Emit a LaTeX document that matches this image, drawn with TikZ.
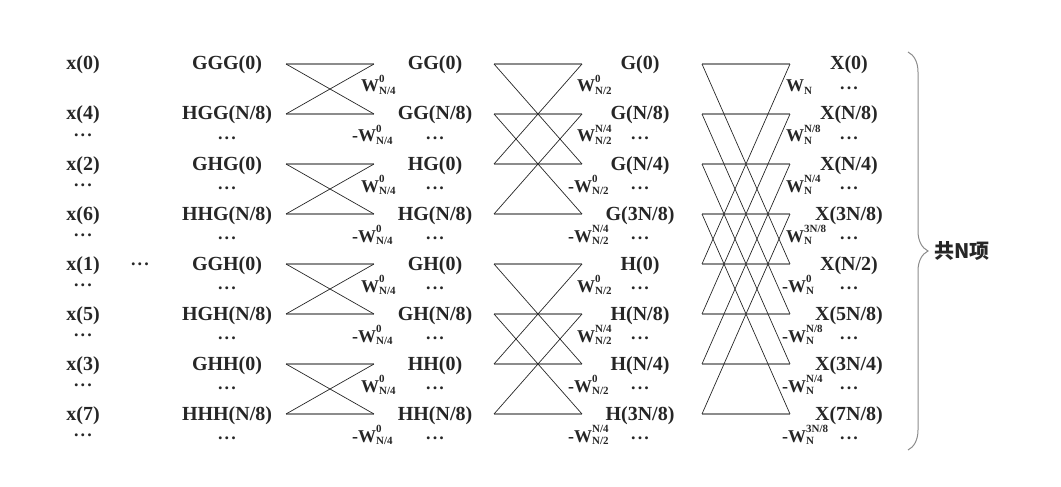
\documentclass[tikz,border=0pt]{standalone}
\usepackage{fontspec}
\setmainfont{Liberation Serif}
\newfontfamily\cjk{Noto Sans CJK SC}
\usetikzlibrary{decorations.pathreplacing}
\definecolor{wire}{HTML}{8C8C8C}
\definecolor{ink}{HTML}{262626}
\newcommand{\twsz}{\fontsize{11}{11}\selectfont}
\newcommand{\tw}[2]{W\rlap{\raisebox{0.55em}{\twsz #1}}\raisebox{-0.12em}{\twsz #2}}
\newcommand{\dotz}{.\kern2.2pt.\kern2.2pt.}

\begin{document}
\begin{tikzpicture}[x=1pt,y=-1pt,font=\fontsize{20}{22}\selectfont\bfseries,
  lbl/.style={text=ink,inner sep=0pt,anchor=base},
  dots/.style={lbl,font=\fontsize{18}{18}\selectfont\bfseries},
  wlbl/.style={text=ink,inner sep=0pt,anchor=base west,font=\fontsize{18}{20}\selectfont\bfseries},
  bar/.style={wire,line width=1.5pt},
  cross/.style={ink,line width=0.7pt}]
  \useasboundingbox (0,0) rectangle (1061,487);
  % inputs
  \foreach \k/\t in {0/x(0),1/x(4),2/x(2),3/x(6),4/x(1),5/x(5),6/x(3),7/x(7)}{\node[lbl] (x\k) at (83,{70+50*\k}){\t};}
  \foreach \k in {1,...,7}{\node[dots] (xd\k) at (83,{86.5+50*\k}){\dotz};}
  \node[dots] (skip) at (140,265){\dotz};
  % third split
  \foreach \k/\t in {0/GGG(0),1/{HGG(N/8)},2/GHG(0),3/{HHG(N/8)},4/GGH(0),5/{HGH(N/8)},6/GHH(0),7/{HHH(N/8)}}{\node[lbl] (s\k) at (227,{70+50*\k}){\t};}
  \foreach \k in {1,...,7}{\node[dots] (sd\k) at (227,{89.5+50*\k}){\dotz};}
  % butterfly ends
  \foreach \s/\l/\r in {1/286/374,2/494/582,3/702/790}{
   \foreach \k in {0,...,7}{
    \coordinate (l\s\k) at (\l,{64+50*\k});
    \coordinate (r\s\k) at (\r,{64+50*\k});
    \draw[bar] (l\s\k) -- (r\s\k);
   }
  }
  \foreach \a/\b in {0/1,2/3,4/5,6/7}{\draw[cross] (l1\a) -- (r1\b) (l1\b) -- (r1\a);}
  \foreach \a/\b in {0/2,1/3,4/6,5/7}{\draw[cross] (l2\a) -- (r2\b) (l2\b) -- (r2\a);}
  \foreach \a/\b in {0/4,1/5,2/6,3/7}{\draw[cross] (l3\a) -- (r3\b) (l3\b) -- (r3\a);}
  % stage 1
  \foreach \k/\t in {0/GG(0),1/{GG(N/8)},2/HG(0),3/{HG(N/8)},4/GH(0),5/{GH(N/8)},6/HH(0),7/{HH(N/8)}}{\node[lbl] (a\k) at (435,{70+50*\k}){\t};}
  \foreach \k in {1,...,7}{\node[dots] (ad\k) at (435,{89.5+50*\k}){\dotz};}
  \foreach \k/\j in {0/1,2/3,4/5,6/7}{
   \node[wlbl] (wa\k) at (361,{92+50*\k}){\tw{0}{N/4}};
   \node[wlbl] (wa\j) at (352,{92+50*\j}){-\tw{0}{N/4}};
  }
  % stage 2
  \foreach \k/\t in {0/G(0),1/{G(N/8)},2/{G(N/4)},3/{G(3N/8)},4/H(0),5/{H(N/8)},6/{H(N/4)},7/{H(3N/8)}}{\node[lbl] (b\k) at (640,{70+50*\k}){\t};}
  \foreach \k in {1,...,7}{\node[dots] (bd\k) at (640,{89.5+50*\k}){\dotz};}
  \foreach \k/\j/\p in {0/2/0,1/3/{N/4},4/6/0,5/7/{N/4}}{
   \node[wlbl] (wb\k) at (577,{92+50*\k}){\tw{\p}{N/2}};
   \node[wlbl] (wb\j) at (568,{92+50*\j}){-\tw{\p}{N/2}};
  }
  % stage 3
  \foreach \k/\t in {0/X(0),1/{X(N/8)},2/{X(N/4)},3/{X(3N/8)},4/{X(N/2)},5/{X(5N/8)},6/{X(3N/4)},7/{X(7N/8)}}{\node[lbl] (c\k) at (849,{70+50*\k}){\t};}
  \foreach \k in {0,...,7}{\node[dots] (cd\k) at (849,{89.5+50*\k}){\dotz};}
  \foreach \k/\j/\p/\q in {0/4/{}/0,1/5/{N/8}/{N/8},2/6/{N/4}/{N/4},3/7/{3N/8}/{3N/8}}{
   \node[wlbl] (wc\k) at (786,{92+50*\k}){\tw{\p}{N}};
   \node[wlbl] (wc\j) at (782,{92+50*\j}){-\tw{\q}{N}};
  }
  % brace
  \coordinate (btop) at (908,52);
  \coordinate (bbot) at (908,450);
  \draw[wire,line width=1pt,decorate,decoration={brace,amplitude=20pt,aspect=0.5}] (btop) -- (bbot);
  \node[anchor=west,inner sep=0pt,text=ink,font=\fontsize{20}{21}\selectfont\cjk\bfseries] (total) at (934,251){共N项};
\end{tikzpicture}
\end{document}
